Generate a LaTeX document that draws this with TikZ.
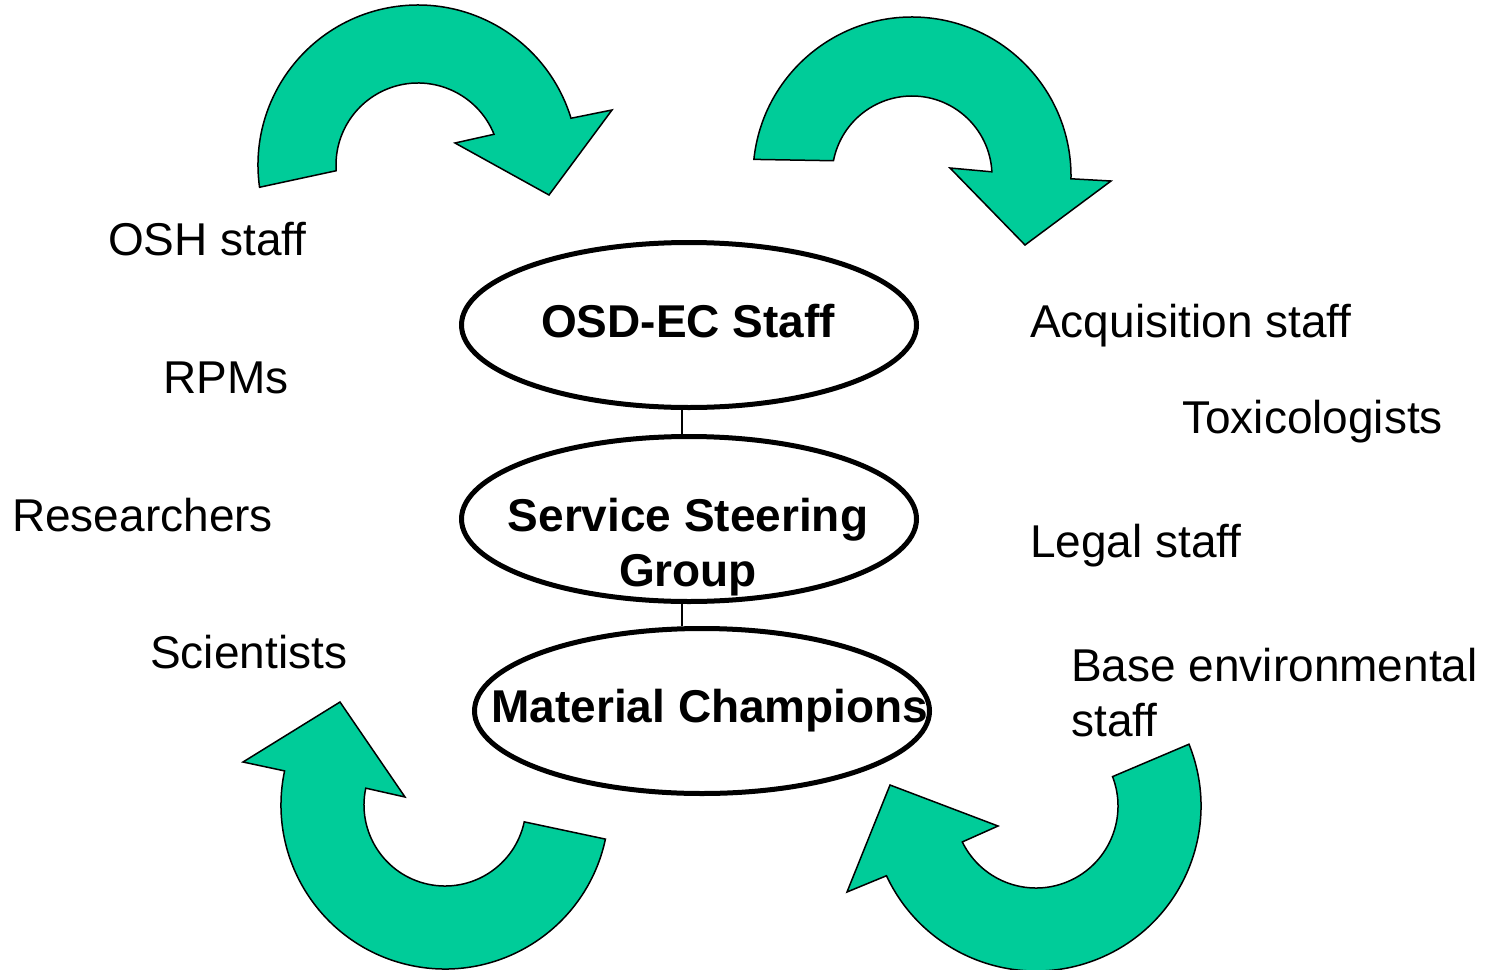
\documentclass[tikz,border=0pt]{standalone}
\usepackage{fontspec}
\setmainfont{Liberation Sans}
\usetikzlibrary{shapes.geometric,calc}
\definecolor{arrowgreen}{RGB}{0,204,153}
\begin{document}
\begin{tikzpicture}[x=1pt,y=1pt,
  lbl/.style={anchor=base west,inner sep=0pt,align=left,font=\fontsize{46}{55}\selectfont},
  boldtxt/.style={anchor=base,inner sep=0pt,align=center,font=\fontsize{46}{55}\selectfont\bfseries},
  oval/.style={ellipse,draw,line width=5pt,minimum width=455pt,minimum height=165pt,inner sep=0pt},
  bendarrow/.style={fill=arrowgreen,draw=black,line width=1.5pt,line join=miter},
  link/.style={draw,line width=1.5pt}]
\useasboundingbox (0,0) rectangle (1485,-969);

% curved arrows
\coordinate (c1) at (418,-165);
\coordinate (c2) at (912,-176);
\coordinate (c3) at (445,-805);
\coordinate (c4) at (1036,-806);

\draw[bendarrow] ($(c1)+(188:160)$) arc[start angle=188,end angle=17,radius=160]
  -- (612,-110) -- (549,-195) -- (455,-143)
  -- ($(c1)+(22:82)$) arc[start angle=22,end angle=184,radius=82] -- cycle;

\draw[bendarrow] ($(c2)+(174:159)$) arc[start angle=174,end angle=-1,radius=159]
  -- (1111,-181) -- (1025,-245) -- (950,-168)
  -- ($(c2)+(3:80)$) arc[start angle=3,end angle=169,radius=80] -- cycle;

\draw[bendarrow] ($(c3)+(-12:164)$) arc[start angle=-12,end angle=-192,radius=164]
  -- (243,-762) -- (340,-702) -- (405,-797)
  -- ($(c3)+(-192:81)$) arc[start angle=-192,end angle=-12,radius=81] -- cycle;

\draw[bendarrow] ($(c4)+(22:165)$) arc[start angle=22,end angle=-155,radius=165]
  -- (847,-892) -- (890,-785) -- (998,-826)
  -- ($(c4)+(-154:82)$) arc[start angle=-154,end angle=21,radius=82] -- cycle;

% ellipses
\node[oval] (e1) at (689,-325) {};
\node[oval] (e2) at (689,-519) {};
\node[oval] (e3) at (702,-711) {};
\draw[link] ([xshift=-7pt]e1.south) -- ([xshift=-7pt]e2.north);
\draw[link] ([xshift=-7pt]e2.south) -- ([xshift=-7pt]e2.south |- e3.north);

\node[boldtxt] (t1) at (688,-337) {OSD-EC Staff};
\node[boldtxt] (t2) at (688,-586) {Service Steering\\Group};
\node[boldtxt] (t3) at (710,-722) {Material Champions};

% side labels
\node[lbl] (osh) at (108,-255) {OSH staff};
\node[lbl] (rpm) at (163,-393) {RPMs};
\node[lbl] (res) at (12,-531) {Researchers};
\node[lbl] (sci) at (150,-668) {Scientists};
\node[lbl] (acq) at (1030,-337) {Acquisition staff};
\node[lbl] (tox) at (1182,-433) {Toxicologists};
\node[lbl] (leg) at (1030,-557) {Legal staff};
\node[lbl] (base) at (1071,-736) {Base environmental\\staff};
\end{tikzpicture}
\end{document}
